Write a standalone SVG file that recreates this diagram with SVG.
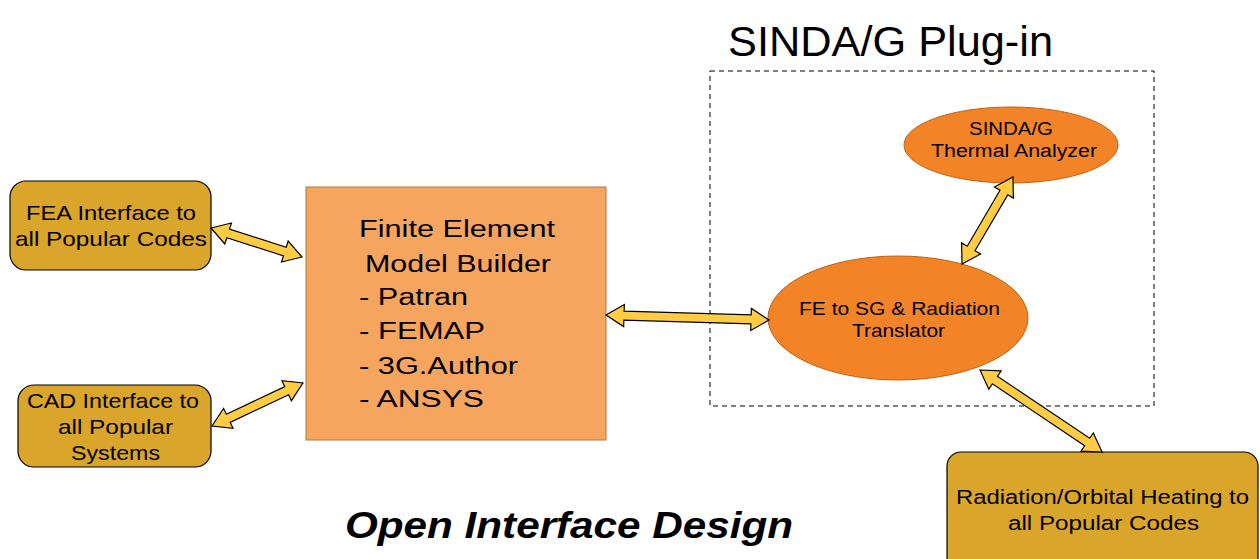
<svg xmlns="http://www.w3.org/2000/svg" width="1260" height="559" viewBox="0 0 1260 559">
<style>
.t{font-family:"Liberation Sans",Arial,sans-serif;fill:#000}
.gold{fill:#D9A52A;stroke:#000;stroke-width:1.2}
.ell{fill:#F28427;stroke:#C06010;stroke-width:1}
.arr{fill:#FFCC44;stroke:#000;stroke-width:1.2;stroke-linejoin:miter}
</style>
<rect width="1260" height="559" fill="#fff"/>
<g id="plugin">
<rect x="710" y="71" width="444" height="335" fill="none" stroke="#000" stroke-width="1" stroke-dasharray="5,4"/>
<text class="t" x="728" y="56" font-size="43" textLength="325" lengthAdjust="spacingAndGlyphs">SINDA/G Plug-in</text>
</g>
<g id="fea">
<rect class="gold" x="10" y="181" width="201" height="89" rx="16"/>
<text class="t" x="26" y="220" font-size="21" textLength="170" lengthAdjust="spacingAndGlyphs">FEA Interface to</text>
<text class="t" x="15" y="246" font-size="21" textLength="192" lengthAdjust="spacingAndGlyphs">all Popular Codes</text>
</g>
<g id="cad">
<rect class="gold" x="18" y="385" width="193" height="82" rx="16"/>
<text class="t" x="27" y="408" font-size="21" textLength="172" lengthAdjust="spacingAndGlyphs">CAD Interface to</text>
<text class="t" x="58" y="434" font-size="21" textLength="115" lengthAdjust="spacingAndGlyphs">all Popular</text>
<text class="t" x="71" y="460" font-size="21" textLength="89" lengthAdjust="spacingAndGlyphs">Systems</text>
</g>
<g id="femb">
<rect x="306" y="187" width="300" height="253" fill="#F5A55E" stroke="#B8763C" stroke-width="1"/>
<text class="t" x="359" y="237" font-size="23.5" textLength="196" lengthAdjust="spacingAndGlyphs">Finite Element</text>
<text class="t" x="365" y="272" font-size="23.5" textLength="186" lengthAdjust="spacingAndGlyphs">Model Builder</text>
<text class="t" x="359" y="305" font-size="23.5" textLength="109" lengthAdjust="spacingAndGlyphs">- Patran</text>
<text class="t" x="359" y="339" font-size="23.5" textLength="126" lengthAdjust="spacingAndGlyphs">- FEMAP</text>
<text class="t" x="359" y="374" font-size="23.5" textLength="159" lengthAdjust="spacingAndGlyphs">- 3G.Author</text>
<text class="t" x="359" y="407" font-size="23.5" textLength="125" lengthAdjust="spacingAndGlyphs">- ANSYS</text>
</g>
<g id="sindag">
<ellipse class="ell" cx="1011" cy="145" rx="107" ry="38"/>
<text class="t" x="969" y="135" font-size="18" textLength="84" lengthAdjust="spacingAndGlyphs">SINDA/G</text>
<text class="t" x="931" y="157" font-size="18" textLength="166" lengthAdjust="spacingAndGlyphs">Thermal Analyzer</text>
</g>
<g id="translator">
<ellipse class="ell" cx="898" cy="318" rx="130" ry="62"/>
<text class="t" x="799" y="315" font-size="18.5" textLength="201" lengthAdjust="spacingAndGlyphs">FE to SG &amp; Radiation</text>
<text class="t" x="852" y="337" font-size="18.5" textLength="93" lengthAdjust="spacingAndGlyphs">Translator</text>
</g>
<g id="radiation">
<rect class="gold" x="947" y="452" width="311" height="120" rx="14"/>
<text class="t" x="956" y="504" font-size="20" textLength="293" lengthAdjust="spacingAndGlyphs">Radiation/Orbital Heating to</text>
<text class="t" x="1008" y="530" font-size="20" textLength="191" lengthAdjust="spacingAndGlyphs">all Popular Codes</text>
</g>
<g id="connectors">
<polygon class="arr" transform="translate(211,228) rotate(17.68)" points="0,0 18,-11 18,-4.5 77.5,-4.5 77.5,-11 95.5,0 77.5,11 77.5,4.5 18,4.5 18,11"/>
<polygon class="arr" transform="translate(212,426) rotate(-25.29)" points="0,0 18,-11 18,-4.5 82.6,-4.5 82.6,-11 100.6,0 82.6,11 82.6,4.5 18,4.5 18,11"/>
<polygon class="arr" transform="translate(606,315) rotate(1.76)" points="0,0 18,-11 18,-4.5 145.1,-4.5 145.1,-11 163.1,0 145.1,11 145.1,4.5 18,4.5 18,11"/>
<polygon class="arr" transform="translate(962,264) rotate(-59.62)" points="0,0 18,-11 18,-4.5 82.8,-4.5 82.8,-11 100.8,0 82.8,11 82.8,4.5 18,4.5 18,11"/>
<polygon class="arr" transform="translate(980,370) rotate(33.9)" points="0,0 18,-11 18,-4.5 129.1,-4.5 129.1,-11 147.1,0 129.1,11 129.1,4.5 18,4.5 18,11"/>
</g>
<text class="t" x="345" y="538" font-size="36" font-weight="bold" font-style="italic" textLength="448" lengthAdjust="spacingAndGlyphs">Open Interface Design</text>
</svg>
